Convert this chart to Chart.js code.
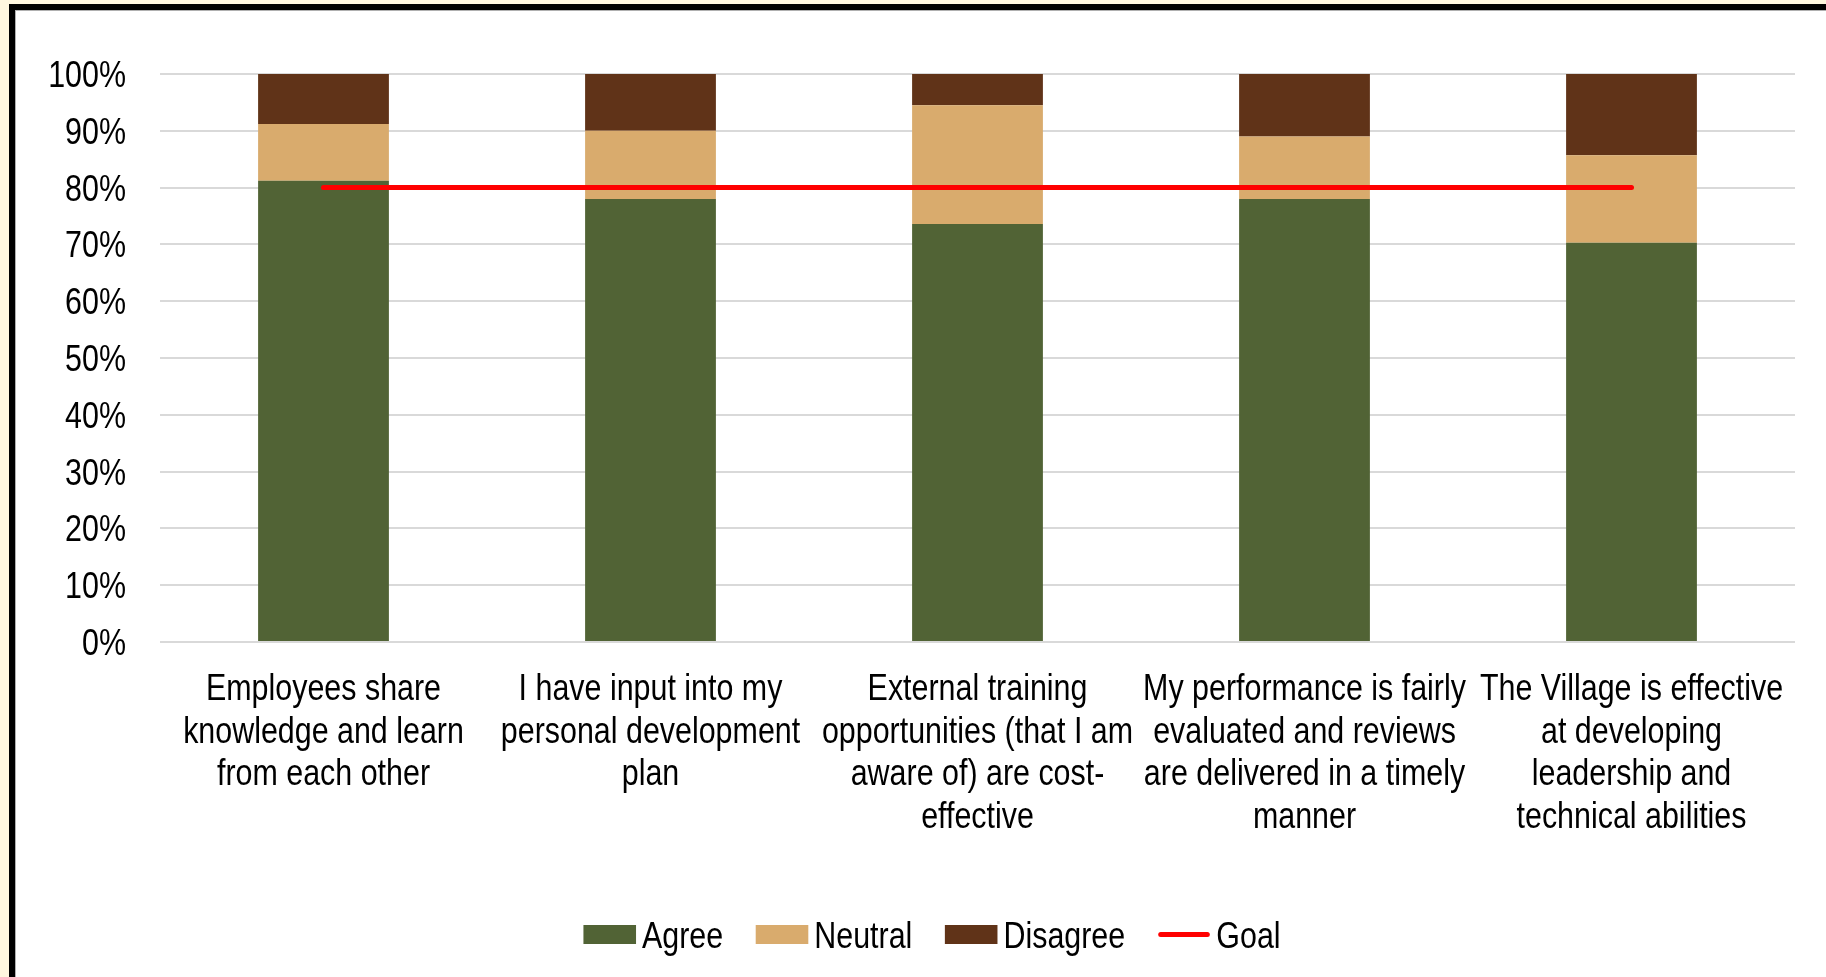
<!DOCTYPE html>
<html>
<head>
<meta charset="utf-8">
<title>Training and Development Survey</title>
<script src="https://cdn.jsdelivr.net/npm/chart.js@4/dist/chart.umd.min.js"></script>
<style>
  html, body { margin: 0; padding: 0; }
  body { width: 1826px; height: 977px; overflow: hidden; background: #fff7df; position: relative; }
  #frame {
    position: absolute; left: 9px; top: 4px; width: 2000px; height: 1200px;
    background: #ffffff; border: 6px solid #000000;
    box-shadow: inset 1px 1px 0 #b0b0b0;
  }
  #chart { position: absolute; left: 0; top: 0; }
</style>
</head>
<body>
<div id="frame"></div>
<canvas id="chart" width="1826" height="977"></canvas>
<script>
// Survey statements (multi-line category labels)
const categories = [
  ["Employees share", "knowledge and learn", "from each other"],
  ["I have input into my", "personal development", "plan"],
  ["External training", "opportunities (that I am", "aware of) are cost-", "effective"],
  ["My performance is fairly", "evaluated and reviews", "are delivered in a timely", "manner"],
  ["The Village is effective", "at developing", "leadership and", "technical abilities"]
];

// Response shares, in percent
const agree    = [81.2, 78.0, 73.6, 78.0, 70.3];
const neutral  = [10.0, 12.0, 20.9, 11.0, 15.4];
const disagree = [ 8.8, 10.0,  5.5, 11.0, 14.3];
const goal     = [80, 80, 80, 80, 80];

// Value axis ticks
const yTicks = [0, 10, 20, 30, 40, 50, 60, 70, 80, 90, 100];

// Narrow sans: Liberation Sans squeezed horizontally
const FONT = "36px 'Liberation Sans', Arial, sans-serif";
const SQUEEZE = 0.845;
const CAP_HALF = 13;     // half the cap height, to centre digits on a grid line
const LINE_STEP = 42.5;  // category label line spacing

function narrowText(ctx, text, x, y, align) {
  ctx.save();
  ctx.translate(x, y);
  ctx.scale(SQUEEZE, 1);
  ctx.textAlign = align;
  ctx.fillText(text, 0, 0);
  ctx.restore();
}
function narrowWidth(ctx, text) {
  return ctx.measureText(text).width * SQUEEZE;
}

// Axis labels placed from the chart's own scales
const axisLabels = {
  id: 'axisLabels',
  afterDraw(chart) {
    const ctx = chart.ctx;
    const xs = chart.scales.x, ys = chart.scales.y;
    ctx.save();
    ctx.font = FONT;
    ctx.fillStyle = '#000000';
    ctx.textBaseline = 'alphabetic';
    ys.ticks.forEach(t => {
      narrowText(ctx, t.value + '%', chart.chartArea.left - 34, ys.getPixelForValue(t.value) + CAP_HALF, 'right');
    });
    chart.data.labels.forEach((lines, i) => {
      const cx = xs.getPixelForValue(i);
      lines.forEach((line, j) => {
        narrowText(ctx, line, cx, chart.chartArea.bottom + 58 + j * LINE_STEP, 'center');
      });
    });
    ctx.restore();
  }
};

// Legend: wide swatches for bars, a short stroke for the goal line
const canvasLegend = {
  id: 'canvasLegend',
  afterDraw(chart) {
    const ctx = chart.ctx;
    const centerX = 932, centerY = 934.5;
    const boxW = 52.6, boxH = 19, textGap = 6, itemGap = 32.5;
    ctx.save();
    ctx.font = FONT;
    ctx.textBaseline = 'alphabetic';
    const items = chart.data.datasets.slice().sort((a, b) => a.legendIndex - b.legendIndex);
    const widths = items.map(ds => boxW + textGap + narrowWidth(ctx, ds.label));
    const total = widths.reduce((s, w) => s + w, 0) + itemGap * (items.length - 1);
    let x = centerX - total / 2;
    items.forEach((ds, i) => {
      if (ds.type === 'line') {
        ctx.strokeStyle = ds.borderColor;
        ctx.lineWidth = ds.borderWidth;
        ctx.lineCap = 'round';
        ctx.beginPath();
        ctx.moveTo(x + 3, centerY);
        ctx.lineTo(x + boxW - 3, centerY);
        ctx.stroke();
      } else {
        ctx.fillStyle = ds.backgroundColor;
        ctx.fillRect(x, centerY - boxH / 2, boxW, boxH);
      }
      ctx.fillStyle = '#000000';
      narrowText(ctx, ds.label, x + boxW + textGap, centerY + CAP_HALF, 'left');
      x += widths[i] + itemGap;
    });
    ctx.restore();
  }
};

new Chart(document.getElementById('chart'), {
  data: {
    labels: categories,
    datasets: [
      {
        type: 'line', label: 'Goal', data: goal, legendIndex: 3,
        borderColor: '#ff0000', borderWidth: 5, borderCapStyle: 'round',
        pointRadius: 0, pointHoverRadius: 0, fill: false, stack: 'goal', order: 0
      },
      {
        type: 'bar', label: 'Agree', data: agree, legendIndex: 0,
        backgroundColor: '#516335', stack: 'responses', order: 1,
        barPercentage: 0.5, categoryPercentage: 0.8
      },
      {
        type: 'bar', label: 'Neutral', data: neutral, legendIndex: 1,
        backgroundColor: '#d9ab6d', stack: 'responses', order: 1,
        barPercentage: 0.5, categoryPercentage: 0.8
      },
      {
        type: 'bar', label: 'Disagree', data: disagree, legendIndex: 2,
        backgroundColor: '#603318', stack: 'responses', order: 1,
        barPercentage: 0.5, categoryPercentage: 0.8
      }
    ]
  },
  options: {
    responsive: false,
    animation: false,
    events: [],
    layout: { padding: { left: 0, right: 31, top: 74, bottom: 0 } },
    plugins: {
      legend: { display: false },
      tooltip: { enabled: false }
    },
    scales: {
      x: {
        stacked: true,
        offset: true,
        grid: { display: false, drawTicks: false },
        border: { display: false },
        ticks: { display: false },
        afterFit(scale) { scale.height = 335; }
      },
      y: {
        stacked: true,
        min: 0,
        max: 100,
        grid: { color: '#d9d9d9', lineWidth: 2, drawTicks: false },
        border: { display: false },
        afterBuildTicks(scale) { scale.ticks = yTicks.map(v => ({ value: v })); },
        ticks: { display: false },
        afterFit(scale) { scale.width = 160; }
      }
    }
  },
  plugins: [axisLabels, canvasLegend]
});
</script>
</body>
</html>
